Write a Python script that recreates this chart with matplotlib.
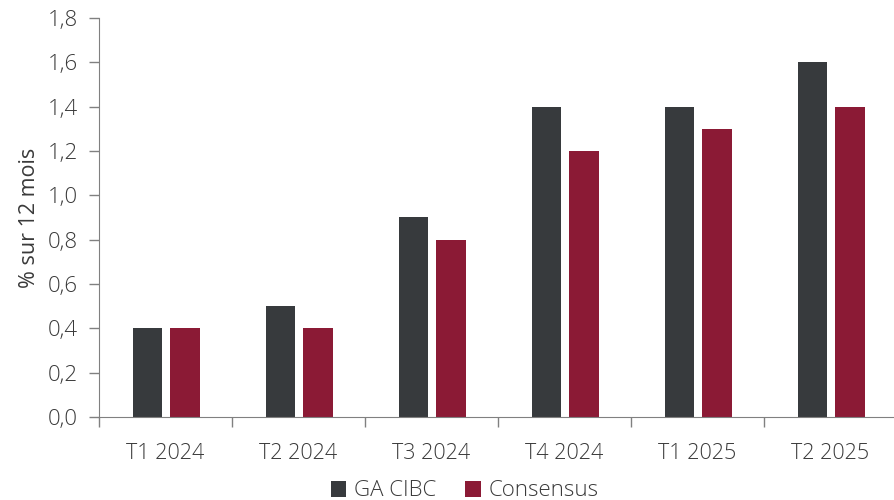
import numpy as np
import matplotlib.pyplot as plt
from matplotlib.ticker import FuncFormatter

plt.rcParams['font.family'] = ['Open Sans', 'DejaVu Sans']
plt.rcParams['font.weight'] = 'light'

categories = ['T1 2024', 'T2 2024', 'T3 2024', 'T4 2024', 'T1 2025', 'T2 2025']
ga_cibc = [0.4, 0.5, 0.9, 1.4, 1.4, 1.6]
consensus = [0.4, 0.4, 0.8, 1.2, 1.3, 1.4]

c_dark = '#373a3d'
c_red = '#8b1a35'
txt = '#3a3a3a'
axc = '#808080'

fig = plt.figure(figsize=(8.94, 5), dpi=100)
ax = fig.add_axes([0.1107, 0.166, 0.8926, 0.798])

x = np.arange(len(categories))
w = 0.22
ax.bar(x - 0.135, ga_cibc, w, color=c_dark, label='GA CIBC')
ax.bar(x + 0.147, consensus, w, color=c_red, label='Consensus')

ax.set_xlim(-0.5, len(categories) - 0.5)
ax.set_ylim(0, 1.8)
ax.set_yticks(np.arange(0, 1.81, 0.2))
ax.yaxis.set_major_formatter(FuncFormatter(lambda v, p: f'{v:.1f}'.replace('.', ',')))

ax.set_xticks(x)
ax.set_xticklabels(categories)
ax.set_xticks(np.arange(-0.5, len(categories), 1.0), minor=True)
ax.tick_params(axis='x', which='major', length=0, pad=19, labelsize=15.5, labelcolor=txt)
ax.tick_params(axis='x', which='minor', length=7, width=1, color=axc)
ax.tick_params(axis='y', length=7, width=1, color=axc, labelsize=16, labelcolor=txt, pad=8)

for s in ['top', 'right']:
    ax.spines[s].set_visible(False)
for s in ['left', 'bottom']:
    ax.spines[s].set_color(axc)

ax.set_ylabel('% sur 12 mois', fontsize=15.5, color=txt, labelpad=6)

fig.legend(loc='lower center', bbox_to_anchor=(0.52, -0.043), ncol=2, frameon=False,
           fontsize=16, handlelength=0.7, handleheight=0.7, handletextpad=0.35,
           columnspacing=1.3, labelcolor=txt)

fig.savefig('out.png', dpi=100)
